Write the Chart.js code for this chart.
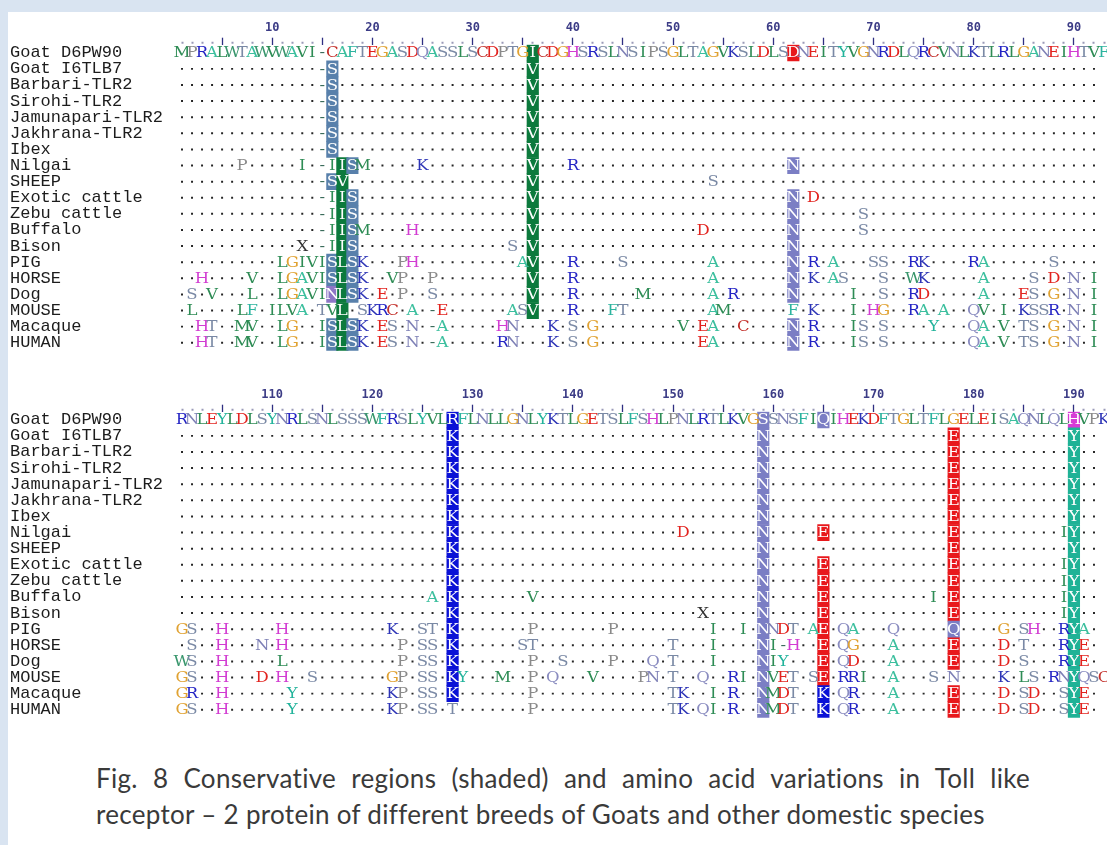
<!DOCTYPE html>
<html>
<head>
<meta charset="utf-8">
<script src="https://cdn.jsdelivr.net/npm/chart.js@4.4.1/dist/chart.umd.min.js"></script>
<style>
  html, body { margin: 0; padding: 0; }
  body { width: 1107px; height: 845px; background: #d9e4f1; position: relative; overflow: hidden; }
  #panel { position: absolute; left: 8px; top: 12px; right: 0; bottom: 0; background: #fff; }
  .block { position: absolute; left: 0; width: 1107px; }
  #caption { position: absolute; left: 96px; top: 760px; width: 934px; font-family: Lato, sans-serif; font-size: 26px;
             letter-spacing: 0.3px; color: #3a3a3a; line-height: 36px; }
  #caption .l1 { text-align: justify; text-align-last: justify; }
</style>
</head>
<body>
<div id="panel"></div>
<div class="block" style="top:0;height:361px"><canvas id="block1"></canvas></div>
<div class="block" style="top:370px;height:358px"><canvas id="block2"></canvas></div>
<div id="caption"><div class="l1">Fig. 8 Conservative regions (shaded) and amino acid variations in Toll like</div><div>receptor – 2 protein of different breeds of Goats and other domestic species</div></div>
<script>
const names = ['Goat D6PW90', 'Goat I6TLB7', 'Barbari-TLR2', 'Sirohi-TLR2', 'Jamunapari-TLR2', 'Jakhrana-TLR2',
  'Ibex', 'Nilgai', 'SHEEP', 'Exotic cattle', 'Zebu cattle', 'Buffalo', 'Bison', 'PIG', 'HORSE', 'Dog',
  'MOUSE', 'Macaque', 'HUMAN'];

// reference row is written out in full, the other rows only list where they differ (letter + column)
const seq1 = [
  ['MPRALWTAWV', 'WAVI-CAFTE', 'GASDQASSLS', 'CDPTGICDGH', 'SRSLNSIPSG', 'LTAGVKSLDL', 'SDNEITYVGN', 'RDLQRCVNLK', 'TLRLGANEIH', 'TVF'].join(''),
  '-15 S16 V36',
  '-15 S16 V36',
  '-15 S16 V36',
  '-15 S16 V36',
  '-15 S16 V36',
  '-15 S16 V36',
  'P7 I13 -15 I16 I17 S18 M19 K25 V36 R40 N62',
  '-15 S16 V17 V36 S54',
  '-15 I16 I17 S18 V36 N62 D64',
  '-15 I16 I17 S18 V36 N62 S69',
  '-15 I16 I17 S18 M19 H24 V36 D53 N62 S69',
  'X13 -15 I16 I17 S18 S34 V36 N62',
  'L11 G12 I13 V14 I15 S16 L17 S18 K19 P23 H24 A35 V36 R40 S45 A54 N62 R64 A66 S70 S71 R74 K75 R80 A81 S88',
  'H3 V8 L11 G12 A13 V14 I15 S16 L17 S18 K19 V22 P23 P26 V36 R40 A54 N62 K64 A66 S67 S71 W74 K75 A81 S86 D88 N90 I92',
  'S2 V4 L8 L11 G12 A13 V14 I15 N16 L17 S18 K19 E21 P23 S26 V36 R40 M47 A54 R56 N62 I68 S71 R74 D75 A81 E85 S86 G88 N90 I92',
  'L2 L7 F8 I10 L11 V12 A13 T15 V16 L17 S19 K20 R21 C22 A24 -26 E27 A34 S35 V36 R40 F44 T45 A54 M55 F62 K64 I68 H70 G71 R74 A75 A77 Q80 V81 I83 K85 S86 S87 R88 N90 I92',
  'H3 T4 M7 V8 L11 G12 I15 S16 L17 S18 K19 E21 S22 N24 -26 A27 H33 N34 K38 S40 G42 V51 E53 A54 C57 N62 R64 I68 S69 S71 Y76 Q80 A81 V83 T85 S86 G88 N90 I92',
  'H3 T4 M7 V8 L11 G12 I15 S16 L17 S18 K19 E21 S22 N24 -26 A27 R33 N34 K38 S40 G42 E53 A54 N62 R64 I68 S69 S71 Q80 A81 V83 T85 S86 G88 N90 I92'
];

const seq2 = [
  ['RNLEYLDLSY', 'NRLSNLSSSW', 'FRSLYVLRFL', 'NLLGNLYKTL', 'GETSLFSHLP', 'NLRTLKVGSS', 'NSFIQIHEKD', 'FTGLTFLGEL', 'EISAQNLQLH', 'VPK'].join(''),
  'K128 N159 E178 Y190',
  'K128 N159 E178 Y190',
  'K128 N159 E178 Y190',
  'K128 N159 E178 Y190',
  'K128 N159 E178 Y190',
  'K128 N159 E178 Y190',
  'K128 D151 N159 E165 E178 I189 Y190',
  'K128 N159 E178 Y190',
  'K128 N159 E165 E178 I189 Y190',
  'K128 N159 E165 E178 I189 Y190',
  'A126 K128 V136 N159 E165 I176 E178 I189 Y190',
  'K128 X153 N159 E165 E178 I189 Y190',
  'G101 S102 H105 H111 K122 S125 T126 K128 P136 P144 I154 I157 N159 N160 D161 T162 A164 E165 Q167 A168 Q172 Q178 G183 S185 H186 R189 Y190 A191',
  'S102 H105 N109 H111 P123 S125 S126 K128 S135 T136 T150 I154 N159 I160 -161 H162 E165 Q167 G168 A172 E178 D183 T185 R189 Y190 E191',
  'W101 S102 H105 L111 P123 S125 S126 K128 P136 S139 P144 Q148 T150 I154 N159 I160 Y161 E165 Q167 D168 A172 E178 D183 S185 R189 Y190 E191',
  'G101 S102 H105 D109 H111 S114 G122 P123 S125 S126 K128 Y129 M133 P136 Q138 V142 P147 N148 T150 Q153 R156 I157 N159 V160 E161 T162 S164 E165 R167 R168 I169 A172 S176 N178 K183 L185 S186 R188 N189 Y190 Q191 S192 C193',
  'G101 R102 H105 Y112 K122 P123 S125 S126 K128 P136 T150 K151 I154 R156 N159 M160 D161 T162 K165 Q167 R168 A172 E178 D183 S185 D186 S189 Y190 E191',
  'G101 S102 H105 Y112 K122 P123 S125 S126 T128 P136 T150 K151 Q153 I154 R156 N159 M160 D161 T162 K165 Q167 R168 A172 E178 D183 S185 D186 S189 Y190 E191'
];

// shaded (conserved) cells: column, rows, shade
const boxes1 = [
  { col: 16, rows: [1, 2, 3, 4, 5, 6, 8, 13, 14, 17, 18], shade: 'steel' },
  { col: 16, rows: [15], shade: 'violet' },
  { col: 17, rows: [7, 8, 9, 10, 11, 12, 13, 14, 15, 16, 17, 18], shade: 'green' },
  { col: 18, rows: [7, 9, 10, 11, 12, 13, 14, 15, 17, 18], shade: 'steel' },
  { col: 36, rows: [0, 1, 2, 3, 4, 5, 6, 7, 8, 9, 10, 11, 12, 13, 14, 15, 16], shade: 'green' },
  { col: 62, rows: [0], shade: 'red' },
  { col: 62, rows: [7, 9, 10, 11, 12, 13, 14, 15, 17, 18], shade: 'slate' }
];

const boxes2 = [
  { col: 128, rows: [0, 1, 2, 3, 4, 5, 6, 7, 8, 9, 10, 11, 12, 13, 14, 15, 16, 17], shade: 'blue' },
  { col: 159, rows: [0, 1, 2, 3, 4, 5, 6, 7, 8, 9, 10, 11, 12, 13, 14, 15, 16, 17, 18], shade: 'slate' },
  { col: 165, rows: [0], shade: 'slate' },
  { col: 165, rows: [7, 9, 10, 11, 12, 13, 14, 15, 16], shade: 'red' },
  { col: 165, rows: [17, 18], shade: 'blue' },
  { col: 178, rows: [1, 2, 3, 4, 5, 6, 7, 8, 9, 10, 11, 12, 14, 15, 17, 18], shade: 'red' },
  { col: 178, rows: [13], shade: 'slate' },
  { col: 190, rows: [0], shade: 'magenta' },
  { col: 190, rows: [1, 2, 3, 4, 5, 6, 7, 8, 9, 10, 11, 12, 13, 14, 15, 16, 17, 18], shade: 'teal' }
];

const shades = {
  steel: '#5880ab', green: '#0c7a3d', violet: '#8d76c6', slate: '#7b7ec4',
  red: '#e8181c', blue: '#0b12d6', teal: '#1fb296', magenta: '#d63bd6'
};

const residueColors = {
  A: '#3cbf9e', R: '#2424c4', N: '#7e80b6', D: '#e2231f', C: '#c3302b', Q: '#8a8cc0', E: '#e2231f',
  G: '#e0a232', H: '#d23cd2', I: '#2e8c55', L: '#2e8c55', K: '#2d34b6', M: '#2e8c55', F: '#2db49f',
  P: '#8a8a8a', S: '#7a89a5', T: '#7a89a5', W: '#38966c', Y: '#22b39b', V: '#2e8c55', X: '#333333',
  '-': '#3b6c5b'
};

function buildRows(seq, first, last) {
  return seq.map((spec, r) => {
    const cells = {};
    if (r === 0) {
      for (let c = first; c <= last; c++) cells[c] = spec[c - first];
    } else {
      spec.split(' ').forEach(tok => { cells[parseInt(tok.slice(1), 10)] = tok[0]; });
    }
    return cells;
  });
}

function makeChart(canvasId, seq, boxes, first, last, axisHeight) {
  const rows = buildRows(seq, first, last);
  const boxed = new Set();
  const boxData = [], boxColors = [];
  boxes.forEach(b => b.rows.forEach(r => {
    boxed.add(r + ':' + b.col);
    boxData.push({ x: b.col, y: [r - 0.5, r + 0.5] });
    boxColors.push(shades[b.shade]);
  }));

  const letters = [], dots = [];
  rows.forEach((cells, r) => {
    for (let c = first; c <= last; c++) {
      const ch = cells[c];
      if (ch && ch !== '.') letters.push({ x: c, y: r, ch, boxed: boxed.has(r + ':' + c) });
      else dots.push({ x: c, y: r });
    }
  });

  // residue letters are written at the positions the library gives the scatter points
  const residuePlugin = {
    id: 'residues',
    afterDatasetsDraw(chart) {
      const idx = chart.data.datasets.findIndex(d => d.label === 'residues');
      const meta = chart.getDatasetMeta(idx);
      const ctx = chart.ctx;
      ctx.font = '14px "DejaVu Serif"';
      ctx.textAlign = 'center';
      ctx.textBaseline = 'middle';
      meta.data.forEach((el, i) => {
        const p = chart.data.datasets[idx].data[i];
        ctx.save();
        ctx.translate(el.x, el.y + 1);
        ctx.scale(1.18, 1);
        ctx.fillStyle = p.boxed ? '#ffffff' : (residueColors[p.ch] || '#333');
        ctx.fillText(p.ch, 0, 0);
        ctx.restore();
      });
    }
  };

  const xMax = first - 0.5 + (1107 - 177) / 10.07;

  return new Chart(document.getElementById(canvasId), {
    type: 'bar',
    data: {
      datasets: [
        { label: 'shaded', data: boxData, backgroundColor: boxColors, barThickness: 11.5, order: 3 },
        { type: 'scatter', label: 'dots', data: dots, pointStyle: 'rect', pointRadius: 1.4,
          backgroundColor: '#262626', borderWidth: 0, order: 2 },
        { type: 'scatter', label: 'residues', data: letters, pointRadius: 0, order: 1 }
      ]
    },
    options: {
      responsive: true,
      maintainAspectRatio: false,
      animation: false,
      events: [],
      layout: { padding: { left: 10, right: 0, top: 0, bottom: 0 } },
      plugins: { legend: { display: false }, tooltip: { enabled: false } },
      scales: {
        x: {
          type: 'linear',
          position: 'top',
          min: first - 0.5,
          max: xMax,
          offset: false,
          border: { display: false },
          grid: {
            offset: false,
            drawOnChartArea: false,
            drawTicks: true,
            tickLength: 7,
            tickColor: ctx => (ctx.tick && ctx.tick.value % 5 === 0 ? '#2f2f82' : '#9a9ab8'),
            tickWidth: ctx => (ctx.tick && ctx.tick.value % 5 === 0 ? 1.3 : 2),
            tickBorderDash: ctx => (ctx.tick && ctx.tick.value % 5 === 0 ? [] : [0, 4, 2, 20])
          },
          ticks: {
            autoSkip: false,
            maxRotation: 0,
            padding: 3,
            color: '#3c3c86',
            font: { family: '"DejaVu Sans Mono"', size: 12, weight: 'bold' },
            callback: v => (v % 10 === 0 ? String(v) : '')
          },
          afterBuildTicks: s => {
            const t = [];
            for (let c = first; c <= last; c++) t.push({ value: c });
            s.ticks = t;
          },
          afterFit: s => { s.height = axisHeight; }
        },
        y: {
          type: 'linear',
          reverse: true,
          min: -0.5,
          max: names.length - 0.5,
          border: { display: false },
          grid: { display: false },
          ticks: {
            autoSkip: false,
            crossAlign: 'far',
            padding: 0,
            color: '#1c1c1c',
            font: { family: '"Liberation Mono"', size: 17 },
            callback: v => names[v] ?? ''
          },
          afterBuildTicks: s => { s.ticks = names.map((n, i) => ({ value: i })); },
          afterFit: s => { s.width = 167; }
        }
      }
    },
    plugins: [residuePlugin]
  });
}

makeChart('block1', seq1, boxes1, 1, 93, 44.7);
makeChart('block2', seq2, boxes2, 101, 193, 41.7);
</script>
</body>
</html>
